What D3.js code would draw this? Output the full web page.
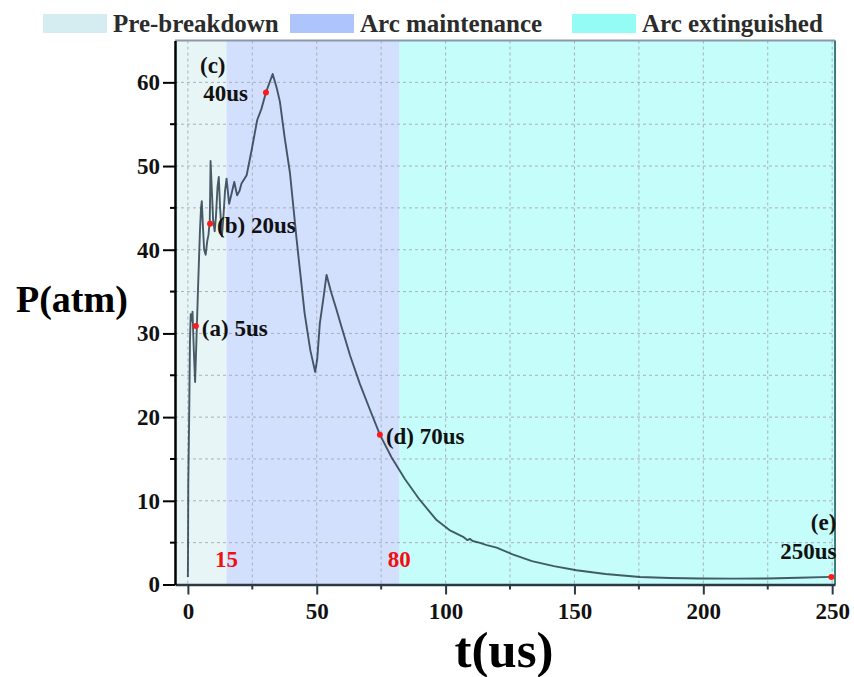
<!DOCTYPE html>
<html>
<head>
<meta charset="utf-8">
<script src="https://cdn.jsdelivr.net/npm/d3@7"></script>
<style>
	body { margin: 0; background: #fff; }
	text { font-family: "Liberation Serif", "Times New Roman", serif; font-weight: bold; }
</style>
</head>
<body>
<div id="chart"></div>
<script>
// pressure curve
var time_us = [0, 0.05, 0.15, 0.5, 0.8, 1.1, 1.5, 1.8, 2.3, 2.8, 3.3, 4.0, 4.7, 5.1, 5.4, 5.8, 6.3, 6.9, 7.5, 8.0, 8.5, 8.8, 9.3, 9.8, 10.4, 10.9, 11.5, 12.0, 12.5, 13.2, 13.8, 14.4, 15.0, 15.5, 16.0, 16.8, 18.0, 19.1, 20.0, 20.8, 22.8, 24.8, 26.9, 28.5, 30.3, 32.9, 34.5, 35.7, 37.5, 39.6, 42.2, 45.3, 47.5, 49.4, 50.2, 51.2, 52.5, 53.8, 55.5, 57.5, 59.6, 63, 66.7, 70.5, 74.5, 79, 84.2, 90, 96.5, 101.5, 106.8, 108.5, 109.4, 110.5, 113, 116, 119.8, 126, 133.5, 142, 150.8, 162, 175.4, 187, 198.7, 212, 224.6, 237, 249.7];
var pressure = [0.9, 3.5, 12, 20, 29, 32.3, 31.5, 32.6, 28, 24.2, 29, 36, 42.4, 45, 45.8, 43, 40, 39.4, 41, 41.8, 43.5, 50.6, 47, 43.5, 42.2, 44, 47.5, 48.7, 45, 41.6, 44, 47, 48.5, 47, 45.5, 46.5, 48.1, 46.5, 47, 47.9, 48.9, 52, 55.5, 56.8, 58.8, 61.0, 59.3, 57.7, 53.5, 49.2, 41.2, 32.4, 28, 25.4, 27, 31.2, 34, 37.0, 35, 33, 30.8, 27.3, 24.0, 21, 17.9, 15.2, 12.6, 10.1, 7.7, 6.5, 5.7, 5.3, 5.45, 5.2, 5.0, 4.7, 4.4, 3.6, 2.8, 2.2, 1.7, 1.25, 0.9, 0.78, 0.72, 0.7, 0.72, 0.8, 0.91];

// marked instants
var mark_t = [3.1, 8.6, 30.3, 74.5, 249.7];
var mark_p = [30.9, 43.1, 58.8, 17.9, 0.91];

// stages
var stage_names = ["Pre-breakdown", "Arc maintenance", "Arc extinguished"];
var stage_start = [-5, 15, 82];
var stage_end = [15, 82, 251.1];
var stage_colors = ["#d5edf0", "#adc5fc", "#94fcf5"];
var boundary_t = [15, 82];
var boundary_labels = ["15", "80"];

var x_ticks = [0, 50, 100, 150, 200, 250];
var y_ticks = [0, 10, 20, 30, 40, 50, 60];

var width = 854, height = 677;
var svg = d3.select("#chart").append("svg").attr("width", width).attr("height", height);

var x = d3.scaleLinear().domain([-5, 251.1]).range([175, 835]);
var y = d3.scaleLinear().domain([0, 65]).range([584.5, 40.5]);

// stage backgrounds
svg.selectAll(".stage").data(stage_names).enter().append("rect").attr("class", "stage")
	.attr("x", function(d, i) { return x(stage_start[i]); })
	.attr("y", y(65))
	.attr("width", function(d, i) { return x(stage_end[i]) - x(stage_start[i]); })
	.attr("height", y(0) - y(65))
	.style("fill", function(d, i) { return stage_colors[i]; })
	.style("opacity", 0.55);

// dashed grid
var grid = svg.append("g").attr("class", "grid");
grid.selectAll(".gx").data(d3.range(0, 251, 25)).enter().append("line")
	.attr("x1", function(d) { return x(d); }).attr("x2", function(d) { return x(d); })
	.attr("y1", y(65)).attr("y2", y(0));
grid.selectAll(".gy").data(d3.range(5, 65, 5)).enter().append("line")
	.attr("y1", function(d) { return y(d); }).attr("y2", function(d) { return y(d); })
	.attr("x1", x(-5)).attr("x2", x(251.1));
grid.selectAll("line").style("stroke", "#a9b0bb").style("stroke-width", 1).style("stroke-dasharray", "3,3");

// frame
svg.append("line").attr("x1", x(-5)).attr("x2", x(251.1)).attr("y1", y(65)).attr("y2", y(65))
	.style("stroke", "#8c99aa").style("stroke-width", 2);
svg.append("line").attr("x1", x(251.1)).attr("x2", x(251.1)).attr("y1", y(65)).attr("y2", y(0))
	.style("stroke", "#3f7d7a").style("stroke-width", 2);

// curve
var line = d3.line().x(function(d, i) { return x(time_us[i]); }).y(function(d) { return y(d); });
svg.append("path").datum(pressure).attr("d", line)
	.style("fill", "none").style("stroke", "#1f3340").style("stroke-width", 1.9).style("opacity", 0.8)
	.style("stroke-linejoin", "round");

// axes
var xAxis = svg.append("g").attr("transform", "translate(0," + y(0) + ")")
	.call(d3.axisBottom(x).tickValues(x_ticks).tickSize(10).tickSizeOuter(0).tickPadding(8));
xAxis.append("g").selectAll("line").data(d3.range(25, 251, 50)).enter().append("line")
	.attr("x1", function(d) { return x(d); }).attr("x2", function(d) { return x(d); })
	.attr("y1", 0).attr("y2", 5).style("stroke", "#2a3a45").style("stroke-width", 2);
xAxis.select(".domain").style("stroke", "#2a3a45").style("stroke-width", 2.5);
xAxis.selectAll(".tick line").style("stroke", "#2a3a45").style("stroke-width", 2);

var yAxis = svg.append("g").attr("transform", "translate(" + x(-5) + ",0)")
	.call(d3.axisLeft(y).tickValues(y_ticks).tickSize(12).tickSizeOuter(0).tickPadding(3));
yAxis.append("g").selectAll("line").data(d3.range(5, 65, 10)).enter().append("line")
	.attr("y1", function(d) { return y(d); }).attr("y2", function(d) { return y(d); })
	.attr("x1", 0).attr("x2", -5).style("stroke", "#000").style("stroke-width", 2);
yAxis.select(".domain").style("stroke", "#000").style("stroke-width", 2.5);
yAxis.selectAll(".tick line").style("stroke", "#000").style("stroke-width", 2);

svg.selectAll(".tick text").style("font-family", "Liberation Serif, serif").style("font-weight", "bold")
	.style("font-size", "23px").style("fill", "#111");

// axis titles
svg.append("text").attr("x", 16).attr("y", 312).style("font-size", "38px").style("fill", "#000").text("P(atm)");
svg.append("text").attr("x", 504).attr("y", 667).attr("text-anchor", "middle").style("font-size", "51px")
	.style("fill", "#000").text("t(us)");

// stage boundary labels
svg.selectAll(".blabel").data(boundary_labels).enter().append("text").attr("class", "blabel")
	.attr("x", function(d, i) { return x(boundary_t[i]); }).attr("y", 567)
	.attr("text-anchor", "middle").style("font-size", "23px").style("fill", "#f01010")
	.text(function(d) { return d; });

// marked points
svg.selectAll(".mark").data(mark_t).enter().append("circle").attr("class", "mark")
	.attr("cx", function(d) { return x(d); })
	.attr("cy", function(d, i) { return y(mark_p[i]); })
	.attr("r", 3).style("fill", "#ff1a1a");

function note(i, txt, dx, dy, anchor) {
	svg.append("text").attr("x", x(mark_t[i]) + dx).attr("y", y(mark_p[i]) + dy)
		.attr("text-anchor", anchor).style("font-size", "23px").style("fill", "#111").text(txt);
}
note(0, "(a) 5us", 6, 10, "start");
note(1, "(b) 20us", 7, 9, "start");
note(2, "(c)", -66, -19, "start");
note(2, "40us", -18, 9, "end");
note(3, "(d) 70us", 6, 9, "start");
note(4, "(e)", 5, -47, "end");
note(4, "250us", 5, -18, "end");

// legend
var legend_x = [43, 290, 572];
var lg = svg.selectAll(".legend").data(stage_names).enter().append("g").attr("class", "legend")
	.attr("transform", function(d, i) { return "translate(" + legend_x[i] + ",14)"; });
lg.append("rect").attr("width", 64).attr("height", 19).style("fill", function(d, i) { return stage_colors[i]; });
lg.append("text").attr("x", 70).attr("y", 18).style("font-size", "25px").style("fill", "#2b2b2b")
	.text(function(d) { return d; });
</script>
</body>
</html>
